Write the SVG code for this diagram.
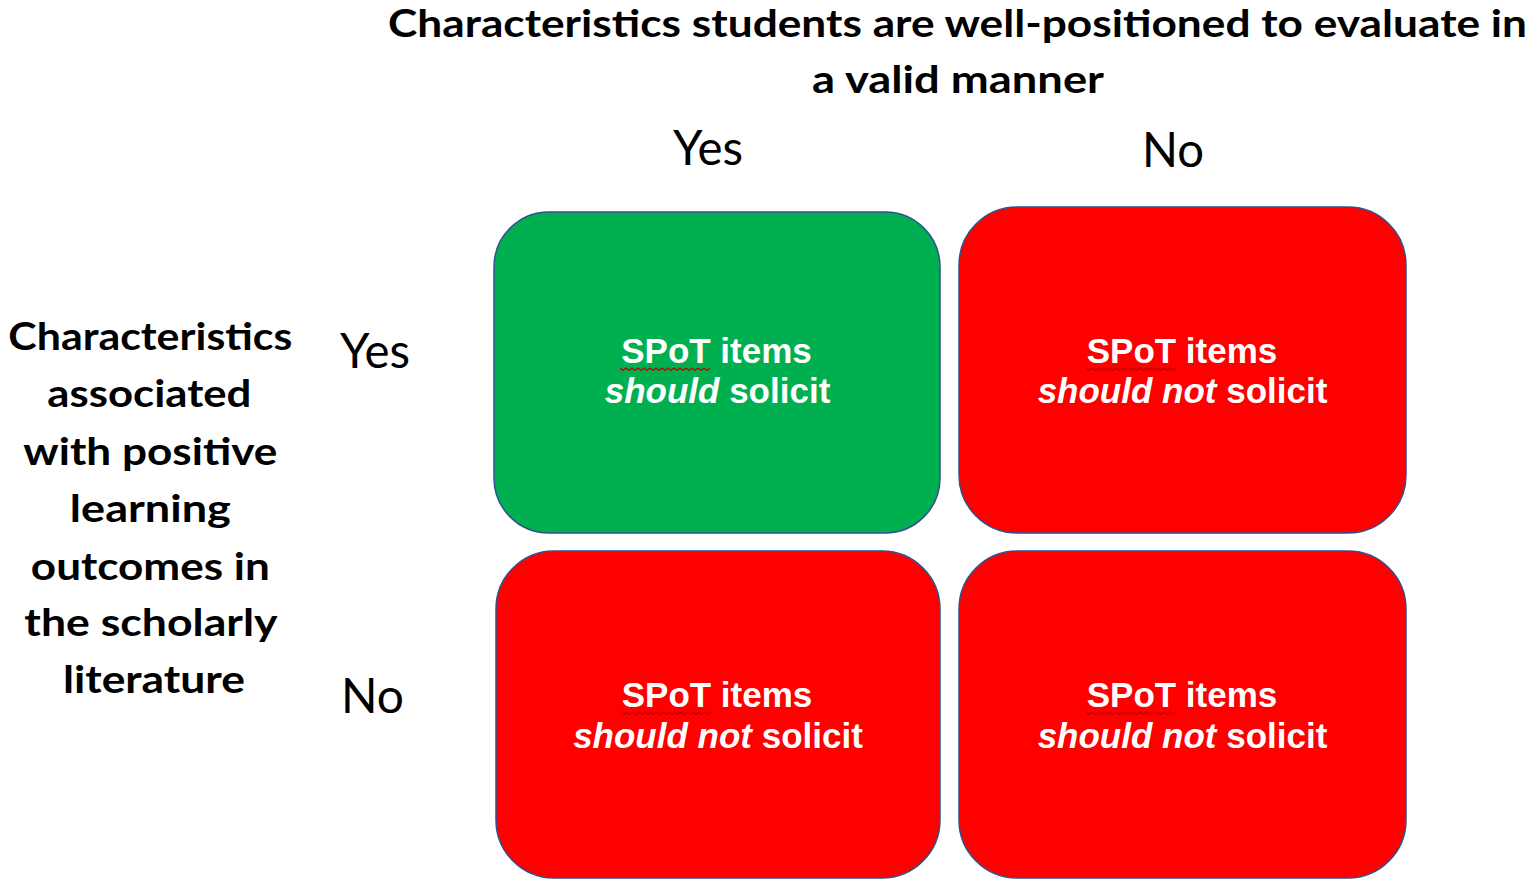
<svg xmlns="http://www.w3.org/2000/svg" width="1535" height="887" viewBox="0 0 1535 887">
<style>
.hdr{font-family:Lato,"Open Sans","Liberation Sans",sans-serif;font-weight:bold;fill:#000;text-anchor:middle}
.yn{font-family:Lato,"Open Sans","Liberation Sans",sans-serif;font-weight:normal;fill:#000;font-size:48px;text-anchor:middle}
.box{stroke:#2f528f;stroke-width:1.5}
.green{fill:#00b050}
.red{fill:#ff0000}
.bt{font-family:"Liberation Sans",Arial,sans-serif;font-weight:bold;font-size:35px;fill:#fff;text-anchor:middle}
.sq{fill:none;stroke:#c00000;stroke-width:1.3}
</style>
<rect width="1535" height="887" fill="#fff"/>
<g id="title">
<text class="hdr" x="957.5" y="37" font-size="38" textLength="1139" lengthAdjust="spacingAndGlyphs">Characteristics students are well-positioned to evaluate in</text>
<text class="hdr" x="958" y="93" font-size="38" textLength="292" lengthAdjust="spacingAndGlyphs">a valid manner</text>
</g>
<g id="col-headers">
<text class="yn" x="708" y="165" textLength="70" lengthAdjust="spacingAndGlyphs">Yes</text>
<text class="yn" x="1173" y="167" textLength="62" lengthAdjust="spacingAndGlyphs">No</text>
</g>
<g id="row-label">
<text class="hdr" font-size="38">
<tspan x="155" y="350" textLength="284" lengthAdjust="spacingAndGlyphs">Characteristics</tspan>
<tspan x="154" y="407" textLength="204" lengthAdjust="spacingAndGlyphs">associated</tspan>
<tspan x="155" y="465" textLength="254" lengthAdjust="spacingAndGlyphs">with positive</tspan>
<tspan x="155" y="522" textLength="161" lengthAdjust="spacingAndGlyphs">learning</tspan>
<tspan x="155" y="580" textLength="239" lengthAdjust="spacingAndGlyphs">outcomes in</tspan>
<tspan x="155" y="636" textLength="252" lengthAdjust="spacingAndGlyphs">the scholarly</tspan>
<tspan x="154" y="693" textLength="182" lengthAdjust="spacingAndGlyphs">literature</tspan>
</text>
</g>
<g id="row-headers">
<text class="yn" x="375" y="368" textLength="70" lengthAdjust="spacingAndGlyphs">Yes</text>
<text class="yn" x="372.5" y="713" textLength="63" lengthAdjust="spacingAndGlyphs">No</text>
</g>
<g id="cell-yes-yes">
<rect class="box green" x="494" y="212" width="446" height="321" rx="55" ry="55"/>
<text class="bt" x="716.5" y="363">SPoT items</text>
<path class="sq" d="M620 368 l3 2.5 l3 -2.5 l3 2.5 l3 -2.5 l3 2.5 l3 -2.5 l3 2.5 l3 -2.5 l3 2.5 l3 -2.5 l3 2.5 l3 -2.5 l3 2.5 l3 -2.5 l3 2.5 l3 -2.5 l3 2.5 l3 -2.5 l3 2.5 l3 -2.5 l3 2.5 l3 -2.5 l3 2.5 l3 -2.5 l3 2.5 l3 -2.5 l3 2.5 l3 -2.5 l3 2.5 l3 -2.5"/>
<text class="bt" x="717.5" y="403"><tspan font-style="italic">should</tspan> solicit</text>
</g>
<g id="cell-yes-no">
<rect class="box red" x="959" y="207" width="447" height="326" rx="58" ry="58"/>
<text class="bt" x="1182" y="363">SPoT items</text>
<path class="sq" d="M1086 368 l3 2.5 l3 -2.5 l3 2.5 l3 -2.5 l3 2.5 l3 -2.5 l3 2.5 l3 -2.5 l3 2.5 l3 -2.5 l3 2.5 l3 -2.5 l3 2.5 l3 -2.5 l3 2.5 l3 -2.5 l3 2.5 l3 -2.5 l3 2.5 l3 -2.5 l3 2.5 l3 -2.5 l3 2.5 l3 -2.5 l3 2.5 l3 -2.5 l3 2.5 l3 -2.5 l3 2.5 l3 -2.5"/>
<text class="bt" x="1182.5" y="403"><tspan font-style="italic">should not</tspan> solicit</text>
</g>
<g id="cell-no-yes">
<rect class="box red" x="496" y="551" width="444" height="327" rx="58" ry="58"/>
<text class="bt" x="717" y="707">SPoT items</text>
<path class="sq" d="M621 712 l3 2.5 l3 -2.5 l3 2.5 l3 -2.5 l3 2.5 l3 -2.5 l3 2.5 l3 -2.5 l3 2.5 l3 -2.5 l3 2.5 l3 -2.5 l3 2.5 l3 -2.5 l3 2.5 l3 -2.5 l3 2.5 l3 -2.5 l3 2.5 l3 -2.5 l3 2.5 l3 -2.5 l3 2.5 l3 -2.5 l3 2.5 l3 -2.5 l3 2.5 l3 -2.5 l3 2.5 l3 -2.5"/>
<text class="bt" x="718" y="748"><tspan font-style="italic">should not</tspan> solicit</text>
</g>
<g id="cell-no-no">
<rect class="box red" x="959" y="551" width="447" height="327" rx="58" ry="58"/>
<text class="bt" x="1182" y="707">SPoT items</text>
<path class="sq" d="M1086 712 l3 2.5 l3 -2.5 l3 2.5 l3 -2.5 l3 2.5 l3 -2.5 l3 2.5 l3 -2.5 l3 2.5 l3 -2.5 l3 2.5 l3 -2.5 l3 2.5 l3 -2.5 l3 2.5 l3 -2.5 l3 2.5 l3 -2.5 l3 2.5 l3 -2.5 l3 2.5 l3 -2.5 l3 2.5 l3 -2.5 l3 2.5 l3 -2.5 l3 2.5 l3 -2.5 l3 2.5 l3 -2.5"/>
<text class="bt" x="1182.5" y="748"><tspan font-style="italic">should not</tspan> solicit</text>
</g>
<g id="connectors"></g>
</svg>
